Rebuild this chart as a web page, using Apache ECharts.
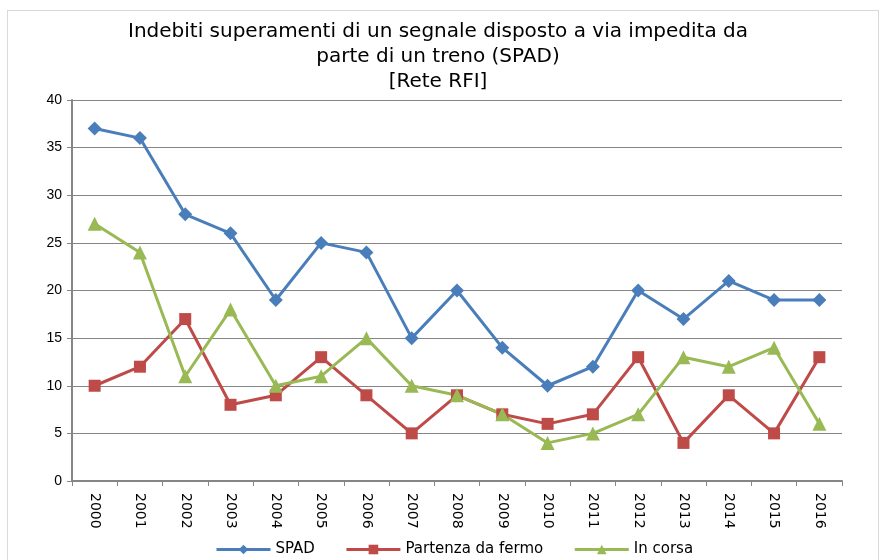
<!DOCTYPE html>
<html>
<head>
<meta charset="utf-8">
<script src="https://cdn.jsdelivr.net/npm/echarts@6/dist/echarts.min.js"></script>
<style>
  html, body { margin: 0; padding: 0; background: #fff; }
  #frame { position: absolute; left: 7px; top: 10px; width: 872px; height: 560px; border: 1px solid #d9d9d9; box-sizing: border-box; }
  #chart { width: 879px; height: 560px; }
</style>
</head>
<body>
<div id="frame"></div>
<div id="chart"></div>
<script>
// anni
var years = ["2000", "2001", "2002", "2003", "2004", "2005", "2006", "2007", "2008",
  "2009", "2010", "2011", "2012", "2013", "2014", "2015", "2016"];
var spad = [37, 36, 28, 26, 19, 25, 24, 15, 20, 14, 10, 12, 20, 17, 21, 19, 19];
var partenza = [10, 12, 17, 8, 9, 13, 9, 5, 9, 7, 6, 7, 13, 4, 9, 5, 13];
var inCorsa = [27, 24, 11, 18, 10, 11, 15, 10, 9, 7, 4, 5, 7, 13, 12, 14, 6];

var titleFont = "'DejaVu Sans', Lato, sans-serif";

var chart = echarts.init(document.getElementById("chart"));
chart.setOption({
  animation: false,
  title: {
    text: "Indebiti superamenti di un segnale disposto a via impedita da\nparte di un treno (SPAD)\n[Rete RFI]",
    left: 433,
    top: 14,
    textAlign: "center",
    textStyle: { fontFamily: titleFont, fontWeight: "normal", fontSize: 20, color: "#000", lineHeight: 25 }
  },
  legend: {
    bottom: -2,
    left: 210,
    itemWidth: 54,
    itemHeight: 12,
    itemGap: 30,
    lineStyle: { width: 3 },
    textStyle: { fontFamily: titleFont, fontSize: 15, color: "#000" },
    data: ["SPAD", "Partenza da fermo", "In corsa"]
  },
  grid: { left: 72, right: 37, top: 100, bottom: 79, containLabel: false },
  xAxis: {
    type: "category",
    data: years,
    boundaryGap: true,
    axisLine: { lineStyle: { color: "#868686", width: 2 } },
    axisTick: { show: true, interval: 0, length: 5, lineStyle: { color: "#868686" } },
    axisLabel: { rotate: -90, interval: 0, margin: 12, fontFamily: titleFont, fontSize: 14, color: "#000" }
  },
  yAxis: {
    type: "value",
    min: 0,
    max: 40,
    interval: 5,
    axisLine: { show: true, lineStyle: { color: "#868686", width: 2 } },
    axisTick: { show: true, length: 5, lineStyle: { color: "#868686" } },
    splitLine: { lineStyle: { color: "#868686", width: 1 } },
    axisLabel: { fontFamily: "'Liberation Sans', Arial, sans-serif", fontSize: 14, color: "#000", margin: 10 }
  },
  series: [
    {
      name: "SPAD", type: "line", data: spad,
      symbol: "diamond", symbolSize: 14,
      lineStyle: { color: "#4a7ebb", width: 3 },
      itemStyle: { color: "#4a7ebb" }
    },
    {
      name: "Partenza da fermo", type: "line", data: partenza,
      symbol: "rect", symbolSize: 12,
      lineStyle: { color: "#be4b48", width: 3 },
      itemStyle: { color: "#be4b48" }
    },
    {
      name: "In corsa", type: "line", data: inCorsa,
      symbol: "triangle", symbolSize: 14,
      lineStyle: { color: "#98b954", width: 3 },
      itemStyle: { color: "#98b954" }
    }
  ]
});
</script>
</body>
</html>
